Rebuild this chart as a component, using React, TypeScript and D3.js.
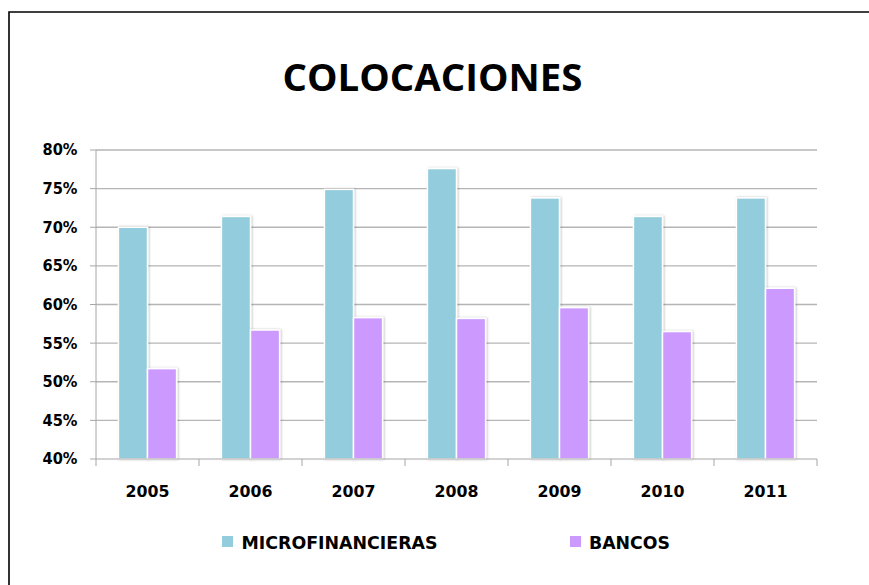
import React from "react";
import * as d3 from "d3";

const years = ["2005", "2006", "2007", "2008", "2009", "2010", "2011"];
const microfinancieras = [70.0, 71.4, 74.9, 77.6, 73.8, 71.4, 73.8];
const bancos = [51.7, 56.7, 58.3, 58.2, 59.6, 56.5, 62.1];
const seriesNames = ["MICROFINANCIERAS", "BANCOS"];
const seriesColors = ["#93CDDD", "#CC99FF"];
const yTicks = [40, 45, 50, 55, 60, 65, 70, 75, 80];

const W = 869;
const H = 585;
const left = 96;
const right = 817;
const top = 150;
const bottom = 459;

export default function App() {
  const x = d3.scaleBand<string>().domain(years).range([left, right]).paddingInner(0).paddingOuter(0);
  const y = d3.scaleLinear().domain([40, 80]).range([bottom, top]);
  const bw = x.bandwidth();
  const groupW = bw * 0.565;
  const x1 = d3.scaleBand<string>().domain(seriesNames).range([(bw - groupW) / 2, (bw + groupW) / 2]);
  const data = [microfinancieras, bancos];
  const tickXs = [...years.map((yr) => x(yr) as number), right];

  return (
    <svg width={W} height={H} style={{ position: "absolute", left: 0, top: 0 }} xmlns="http://www.w3.org/2000/svg">
      <defs>
        <filter id="shadow" x="-20%" y="-5%" width="140%" height="110%">
          <feDropShadow dx="1" dy="0" stdDeviation="1" floodColor="#000" floodOpacity="0.25" />
        </filter>
      </defs>
      <rect x={0} y={0} width={W} height={H} fill="#fff" />
      <path d={`M9,${H + 5} L9,12 L${W + 5},12`} fill="none" stroke="#000" strokeWidth={1.6} />
      <text
        x={432.5}
        y={90.5}
        textAnchor="middle"
        fontFamily="'Open Sans', sans-serif"
        fontWeight="bold"
        fontSize={38}
        textLength={300}
        lengthAdjust="spacingAndGlyphs"
        fill="#000"
      >
        COLOCACIONES
      </text>
      {yTicks.map((t) => (
        <g key={t}>
          {t !== 40 && (
            <line x1={left} x2={right} y1={y(t)} y2={y(t)} stroke="#B5B5B5" strokeWidth={1.3} />
          )}
          <line x1={left - 6} x2={left} y1={y(t)} y2={y(t)} stroke="#A6A6A6" strokeWidth={1} />
          <text
            x={77.5}
            y={y(t)}
            dy="0.36em"
            textAnchor="end"
            fontFamily="'DejaVu Sans', sans-serif"
            fontWeight="bold"
            fontSize={15}
            textLength={35}
            lengthAdjust="spacingAndGlyphs"
            fill="#000"
          >
            {t}%
          </text>
        </g>
      ))}
      <line x1={left} x2={left} y1={top} y2={bottom} stroke="#A6A6A6" strokeWidth={1} />
      {data.map((vals, si) =>
        vals.map((v, i) => (
          <rect
            key={`${si}-${i}`}
            x={(x(years[i]) as number) + (x1(seriesNames[si]) as number)}
            y={y(v)}
            width={x1.bandwidth()}
            height={bottom - y(v)}
            fill={seriesColors[si]}
            stroke="#fff"
            strokeWidth={1.5}
            filter="url(#shadow)"
          />
        ))
      )}
      <line x1={left} x2={right} y1={bottom} y2={bottom} stroke="#A6A6A6" strokeWidth={1.2} />
      {tickXs.map((tx, i) => (
        <line key={i} x1={tx} x2={tx} y1={bottom} y2={bottom + 7} stroke="#A6A6A6" strokeWidth={1} />
      ))}
      {years.map((yr) => (
        <text
          key={yr}
          x={(x(yr) as number) + bw / 2}
          y={497}
          textAnchor="middle"
          fontFamily="'DejaVu Sans', sans-serif"
          fontWeight="bold"
          fontSize={16.5}
          textLength={44}
          lengthAdjust="spacingAndGlyphs"
          fill="#000"
        >
          {yr}
        </text>
      ))}
      <rect x={222} y={536} width={11} height={11} fill={seriesColors[0]} />
      <text
        x={241.5}
        y={548.5}
        fontFamily="'DejaVu Sans', sans-serif"
        fontWeight="bold"
        fontSize={17}
        textLength={196}
        lengthAdjust="spacingAndGlyphs"
        fill="#000"
      >
        {seriesNames[0]}
      </text>
      <rect x={570} y={536} width={11} height={11} fill={seriesColors[1]} />
      <text
        x={589}
        y={548.5}
        fontFamily="'DejaVu Sans', sans-serif"
        fontWeight="bold"
        fontSize={17}
        textLength={81}
        lengthAdjust="spacingAndGlyphs"
        fill="#000"
      >
        {seriesNames[1]}
      </text>
    </svg>
  );
}
